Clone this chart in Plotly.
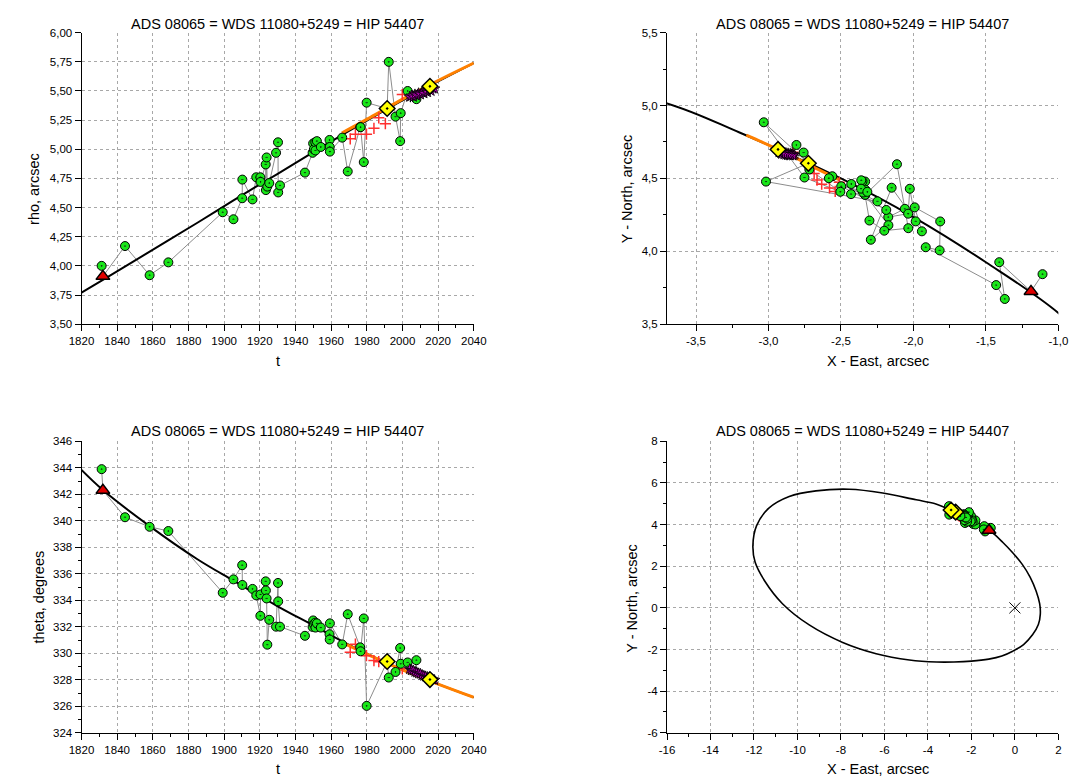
import numpy as np
import plotly.graph_objects as go

TITLE = "ADS 08065 = WDS 11080+5249 = HIP 54407"

# ---- green measurements: epoch, separation (arcsec), position angle (deg)
t_g = [1831.3, 1844.4, 1858.2, 1868.7, 1899.2, 1905.2, 1910.1, 1910.2, 1915.9, 1918.0,
       1920.3, 1920.4, 1923.3, 1923.4, 1923.8, 1924.2, 1925.3, 1929.1, 1930.2, 1930.3,
       1931.3, 1945.3, 1949.6, 1949.9, 1950.3, 1951.1, 1951.2, 1952.0, 1954.2, 1959.1,
       1959.2, 1959.3, 1966.2, 1969.3, 1976.3, 1976.5, 1978.3, 1979.9, 1992.3, 1996.1,
       1998.7, 1999.0, 2002.9, 2007.8]
rho_g = [4.00, 4.17, 3.92, 4.03, 4.46, 4.40, 4.58, 4.74, 4.57, 4.76,
         4.76, 4.72, 4.87, 4.65, 4.93, 4.68, 4.71, 4.97, 5.06, 4.63,
         4.69, 4.80, 4.97, 5.05, 5.00, 5.06, 4.99, 5.07, 5.02, 5.08,
         5.02, 4.98, 5.10, 4.81, 5.19, 5.19, 4.89, 5.40, 5.75, 5.28,
         5.07, 5.31, 5.50, 5.43]
theta_g = [343.90, 340.27, 339.55, 339.23, 334.57, 335.58, 336.65, 335.16, 334.86, 334.37,
           332.83, 334.44, 335.43, 334.74, 334.14, 330.65, 332.53, 332.01, 335.31, 333.92,
           332.01, 331.32, 331.99, 332.48, 332.20, 332.31, 331.94, 332.26, 331.94, 331.44,
           331.04, 332.26, 330.67, 332.95, 330.45, 330.15, 332.63, 326.03, 328.17, 328.59,
           330.40, 329.21, 329.31, 329.48]

# ---- red plus measurements
t_p = [1970.7, 1973.6, 1979.8, 1984.0, 1986.7, 1990.4, 1999.9]
rho_p = [5.09, 5.13, 5.13, 5.18, 5.27, 5.22, 5.47]
theta_p = [330.07, 330.69, 329.82, 329.45, 329.37, 329.30, 328.83]

# ---- yellow diamonds
t_y = [1991.4, 2015.4]
rho_y = [5.35, 5.54]
theta_y = [329.38, 328.02]

# ---- red triangle
t_tr = [1832.0]
rho_tr = [3.91]
theta_tr = [342.30]

# ---- purple stars (recent cluster)
t_s = [2004.0, 2005.0, 2006.0, 2007.0, 2008.0, 2009.0, 2010.0, 2011.0,
       2012.0, 2013.0, 2014.0, 2015.0, 2016.0, 2017.0, 2018.0]
rho_s = [5.45, 5.46, 5.45, 5.47, 5.46, 5.48, 5.47, 5.49,
         5.48, 5.50, 5.49, 5.51, 5.50, 5.52, 5.52]
theta_s = [328.80, 328.72, 328.70, 328.60, 328.55, 328.48, 328.45, 328.36,
           328.30, 328.25, 328.20, 328.12, 328.08, 328.02, 327.98]

# ---- black asterisks (recent cluster)
t_k = [2004.5, 2005.5, 2006.5, 2007.5, 2008.5, 2009.5, 2010.5, 2011.5,
       2012.5, 2013.5, 2014.5, 2016.5]
rho_k = [5.44, 5.47, 5.46, 5.45, 5.48, 5.47, 5.49, 5.47,
         5.50, 5.48, 5.51, 5.52]
theta_k = [328.85, 328.70, 328.62, 328.66, 328.50, 328.42, 328.40, 328.30,
           328.28, 328.18, 328.15, 328.00]

# ---- orbit ephemeris (black) vs time
t_orb = [1820, 1832, 1858, 1885, 1905, 1930, 1950, 1967, 2000, 2040]
rho_orb = [3.77, 3.88, 4.12, 4.37, 4.56, 4.79, 4.975, 5.13, 5.42, 5.74]
theta_orb = [343.84, 342.32, 339.62, 337.10, 335.50, 333.55, 332.10, 330.85, 328.75, 326.67]

# ---- second solution (orange) vs time
t_or = [1966, 1985, 2000, 2020, 2040]
rho_or = [5.14, 5.30, 5.43, 5.59, 5.74]
theta_or = [330.82, 329.63, 328.75, 327.68, 326.68]

# ---- apparent orbit ellipse (X East, Y North), arcsec
orb_x = [-12.05, -11.88, -11.33, -10.38, -9.15, -7.62, -6.08, -4.54, -3.7, -3.2, -2.5, -2.0,
         -1.5, -1.0, -0.55, -0.10, 0.34, 0.70, 0.98, 1.14, 1.17, 1.08, 0.82, 0.40, -0.10,
         -0.60, -1.20, -2.00, -2.80, -3.60, -4.85, -6.38, -7.92, -9.46, -10.69, -11.50,
         -11.95, -12.05]
orb_y = [3.00, 3.95, 4.78, 5.35, 5.62, 5.70, 5.52, 5.19, 5.015, 4.815, 4.50, 4.235,
         3.925, 3.577, 3.14, 2.65, 2.09, 1.48, 0.80, 0.20, -0.30, -0.80, -1.28, -1.76, -2.08,
         -2.31, -2.46, -2.56, -2.60, -2.60, -2.50, -2.20, -1.66, -0.82, 0.20, 1.28,
         2.20, 3.00]

# ---- ticks
tl_x_vals = [1820, 1840, 1860, 1880, 1900, 1920, 1940, 1960, 1980, 2000, 2020, 2040]
tl_x_text = ["1820", "1840", "1860", "1880", "1900", "1920", "1940", "1960", "1980", "2000", "2020", "2040"]
tl_y_vals = [3.50, 3.75, 4.00, 4.25, 4.50, 4.75, 5.00, 5.25, 5.50, 5.75, 6.00]
tl_y_text = ["3,50", "3,75", "4,00", "4,25", "4,50", "4,75", "5,00", "5,25", "5,50", "5,75", "6,00"]
bl_y_vals = [324, 326, 328, 330, 332, 334, 336, 338, 340, 342, 344, 346]
bl_y_text = ["324", "326", "328", "330", "332", "334", "336", "338", "340", "342", "344", "346"]
tr_x_vals = [-3.5, -3.0, -2.5, -2.0, -1.5, -1.0]
tr_x_text = ["-3,5", "-3,0", "-2,5", "-2,0", "-1,5", "-1,0"]
tr_y_vals = [3.5, 4.0, 4.5, 5.0, 5.5]
tr_y_text = ["3,5", "4,0", "4,5", "5,0", "5,5"]
br_x_vals = [-16, -14, -12, -10, -8, -6, -4, -2, 0, 2]
br_x_text = ["-16", "-14", "-12", "-10", "-8", "-6", "-4", "-2", "0", "2"]
br_y_vals = [-6, -4, -2, 0, 2, 4, 6, 8]
br_y_text = ["-6", "-4", "-2", "0", "2", "4", "6", "8"]


def to_xy(rho, theta):
    r = np.asarray(rho, dtype=float)
    th = np.radians(np.asarray(theta, dtype=float))
    return r * np.sin(th), r * np.cos(th)


# connecting line order (time-sorted)
t_all = np.array(t_g + t_tr + t_y + t_s)
rho_all = np.array(rho_g + rho_tr + rho_y + rho_s)
theta_all = np.array(theta_g + theta_tr + theta_y + theta_s)
order = np.argsort(t_all, kind="stable")
t_all, rho_all, theta_all = t_all[order], rho_all[order], theta_all[order]

fig = go.Figure()

GREEN = dict(symbol="circle-dot", size=9, color="#19e619", line=dict(color="black", width=1))
YEL = dict(symbol="diamond-dot", size=12, color="#ffff00", line=dict(color="black", width=1.5))
TRI = dict(symbol="triangle-up", size=12, color="#e00000", line=dict(color="black", width=1.5))
PLUS = dict(symbol="cross-thin", size=8, color="#ff3030", line=dict(color="#ff3030", width=1.5))
STAR = dict(symbol="star", size=8, color="#c000c0", line=dict(color="black", width=0.8))
AST = dict(symbol="asterisk-open", size=7, color="black", line=dict(color="black", width=1))


def add(x, y, xa, ya, mode, **kw):
    fig.add_trace(go.Scatter(x=list(x), y=list(y), xaxis=xa, yaxis=ya, mode=mode,
                             hoverinfo="skip", showlegend=False, **kw))


def time_panel(xa, ya, key):
    pick = {"rho": (rho_all, rho_orb, rho_or, rho_p, rho_g, rho_k, rho_s, rho_y, rho_tr),
            "theta": (theta_all, theta_orb, theta_or, theta_p, theta_g, theta_k, theta_s, theta_y, theta_tr)}[key]
    a_all, a_orb, a_or, a_p, a_g, a_k, a_s, a_y, a_tr = pick
    add(t_all, a_all, xa, ya, "lines", line=dict(color="#8c8c8c", width=1))
    add(t_orb, a_orb, xa, ya, "lines", line=dict(color="black", width=2, shape="spline"))
    add(t_or, a_or, xa, ya, "lines", line=dict(color="#ff8000", width=3, shape="spline"))
    add(t_p, a_p, xa, ya, "markers", marker=PLUS)
    add(t_g, a_g, xa, ya, "markers", marker=GREEN)
    add(t_k, a_k, xa, ya, "markers", marker=AST)
    add(t_s, a_s, xa, ya, "markers", marker=STAR)
    add(t_y, a_y, xa, ya, "markers", marker=YEL)
    add(t_tr, a_tr, xa, ya, "markers", marker=TRI)


def xy_panel(xa, ya, with_center, orbit_width):
    ax_, ay_ = to_xy(rho_all, theta_all)
    add(ax_, ay_, xa, ya, "lines", line=dict(color="#8c8c8c", width=1))
    add(orb_x, orb_y, xa, ya, "lines",
        line=dict(color="black", width=orbit_width, shape="spline", smoothing=1.0))
    ox, oy = to_xy(rho_or, theta_or)
    add(ox, oy, xa, ya, "lines", line=dict(color="#ff8000", width=3, shape="spline"))
    for r, th, m in ((rho_p, theta_p, PLUS), (rho_g, theta_g, GREEN), (rho_k, theta_k, AST),
                     (rho_s, theta_s, STAR), (rho_y, theta_y, YEL), (rho_tr, theta_tr, TRI)):
        x, y = to_xy(r, th)
        add(x, y, xa, ya, "markers", marker=m)
    if with_center:
        add([0], [0], xa, ya, "markers",
            marker=dict(symbol="x-thin", size=11, color="black", line=dict(color="black", width=1)))


time_panel("x", "y", "rho")
xy_panel("x2", "y2", False, 2)
time_panel("x3", "y3", "theta")
xy_panel("x4", "y4", True, 1.6)

W, H = 1078, 781
LX = [62 / W, 464 / W]
RX = [662 / W, 1063 / W]
TY = [1 - 315 / H, 1 - 19 / H]
BY = [1 - 730 / H, 1 - 434 / H]

FONT = "Liberation Sans, Arial, sans-serif"


def axis(domain, rng, vals, text, anchor, minor_dtick=None, minor_tick0=None):
    d = dict(domain=domain, range=rng, tickmode="array", tickvals=vals, ticktext=text,
             showline=True, linecolor="black", linewidth=1, mirror=False,
             ticks="outside", ticklen=6, tickwidth=1, tickcolor="black",
             showgrid=True, gridcolor="#a8a8a8", griddash="dot", gridwidth=1,
             zeroline=False, anchor=anchor, tickfont=dict(size=11.5, color="black", family=FONT),
             fixedrange=True)
    if minor_dtick is not None:
        d["minor"] = dict(dtick=minor_dtick, tick0=minor_tick0, ticks="outside", ticklen=3,
                          tickcolor="black", tickwidth=1, showgrid=False)
    return d


fig.update_layout(
    width=W, height=H, margin=dict(l=0, r=0, t=0, b=0),
    paper_bgcolor="white", plot_bgcolor="white", showlegend=False,
    font=dict(family=FONT, color="black"),
    xaxis=axis(LX, [1820, 2040], tl_x_vals, tl_x_text, "y", 10, 1820),
    yaxis=axis(TY, [3.5, 6.0], tl_y_vals, tl_y_text, "x"),
    xaxis2=axis(RX, [-3.7, -1.0], tr_x_vals, tr_x_text, "y2", 0.25, -3.5),
    yaxis2=axis(TY, [3.5, 5.5], tr_y_vals, tr_y_text, "x2", 0.25, 3.5),
    xaxis3=axis(LX, [1820, 2040], tl_x_vals, tl_x_text, "y3", 10, 1820),
    yaxis3=axis(BY, [324, 346], bl_y_vals, bl_y_text, "x3", 1, 324),
    xaxis4=axis(RX, [-16, 2], br_x_vals, br_x_text, "y4", 1, -16),
    yaxis4=axis(BY, [-6, 8], br_y_vals, br_y_text, "x4", 1, -6),
)


def ann(text, px, py, angle=0, size=14.5):
    fig.add_annotation(text=text, x=px / W, y=1 - py / H, xref="paper", yref="paper",
                       showarrow=False, textangle=angle, xanchor="center", yanchor="middle",
                       font=dict(size=size, color="black", family=FONT))


ann(TITLE, 263, 10)
ann(TITLE, 862.5, 10)
ann(TITLE, 263, 424)
ann(TITLE, 862.5, 424)
ann("t", 263, 352)
ann("t", 263, 767)
ann("X - East, arcsec", 878, 352)
ann("X - East, arcsec", 878, 767)
ann("rho, arcsec", 14, 178, -90)
ann("theta, degrees", 18, 592, -90)
ann("Y - North, arcsec", 621, 178, -90)
ann("Y - North, arcsec", 626, 593, -90)

fig.write_html("out.html")
